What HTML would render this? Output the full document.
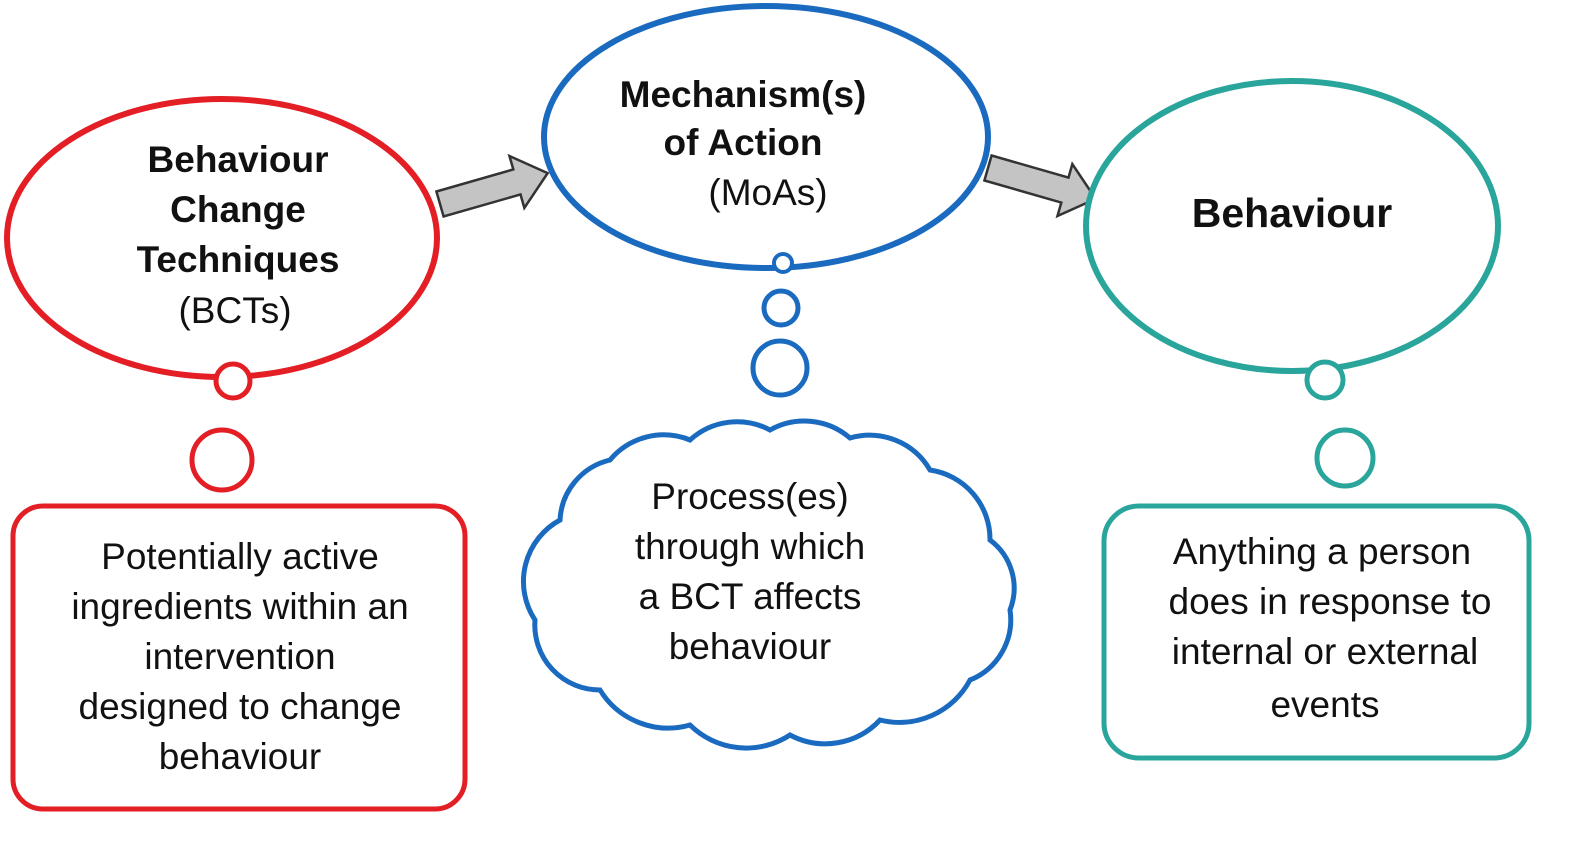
<!DOCTYPE html>
<html><head><meta charset="utf-8"><style>
html,body{margin:0;padding:0;background:#fff}
svg text{font-family:"Liberation Sans",sans-serif;fill:#111;text-anchor:middle}
.b{font-weight:bold}
</style></head><body>
<svg width="1595" height="838" viewBox="0 0 1595 838" xmlns="http://www.w3.org/2000/svg">
<polygon points="0,-13 80,-13 80,-27 112,0 80,27 80,13 0,13" fill="#c4c4c4" stroke="#333" stroke-width="2.5" transform="translate(440,204) rotate(-16)"/>
<polygon points="0,-13 80,-13 80,-27 112,0 80,27 80,13 0,13" fill="#c4c4c4" stroke="#333" stroke-width="2.5" transform="translate(988,168) rotate(16)"/>
<ellipse cx="222" cy="238" rx="215" ry="139" fill="#fff" stroke="#e31e24" stroke-width="6"/>
<circle cx="233" cy="381" r="17" fill="#fff" stroke="#e31e24" stroke-width="5"/>
<circle cx="222" cy="460" r="30" fill="#fff" stroke="#e31e24" stroke-width="5"/>
<rect x="13" y="506" width="452" height="303" rx="30" fill="#fff" stroke="#e31e24" stroke-width="5"/>
<ellipse cx="766" cy="137" rx="222" ry="131" fill="#fff" stroke="#1a6bbf" stroke-width="6"/>
<circle cx="783" cy="263" r="9" fill="#fff" stroke="#1a6bbf" stroke-width="4"/>
<circle cx="781" cy="308" r="17" fill="#fff" stroke="#1a6bbf" stroke-width="5"/>
<circle cx="780" cy="368" r="27" fill="#fff" stroke="#1a6bbf" stroke-width="5"/>
<path d="M560,520 A65,65 0 0 1 610,460 A70,70 0 0 1 690,440 A70,70 0 0 1 770,430 A70,70 0 0 1 850,438 A70,70 0 0 1 930,470 A70,70 0 0 1 990,540 A60,60 0 0 1 1010,610 A65,65 0 0 1 970,680 A80,80 0 0 1 880,720 A75,75 0 0 1 790,735 A80,80 0 0 1 690,725 A80,80 0 0 1 600,690 A65,65 0 0 1 535,620 A70,70 0 0 1 560,520 Z" fill="#fff" stroke="#1a6bbf" stroke-width="5"/>
<ellipse cx="1292" cy="226" rx="206" ry="145" fill="#fff" stroke="#2aa59b" stroke-width="6"/>
<circle cx="1325" cy="380" r="18" fill="#fff" stroke="#2aa59b" stroke-width="5"/>
<circle cx="1345" cy="458" r="28" fill="#fff" stroke="#2aa59b" stroke-width="5"/>
<rect x="1104" y="506" width="425" height="252" rx="35" fill="#fff" stroke="#2aa59b" stroke-width="5"/>
<g font-size="37">
<text class="b" x="238" y="172">Behaviour</text>
<text class="b" x="238" y="222">Change</text>
<text class="b" x="238" y="272">Techniques</text>
<text x="235" y="323">(BCTs)</text>
<text class="b" x="743" y="107">Mechanism(s)</text>
<text class="b" x="743" y="155">of Action</text>
<text x="768" y="205">(MoAs)</text>
<text class="b" x="1292" y="227" font-size="41">Behaviour</text>
<text x="240" y="569">Potentially active</text>
<text x="240" y="619">ingredients within an</text>
<text x="240" y="669">intervention</text>
<text x="240" y="719">designed to change</text>
<text x="240" y="769">behaviour</text>
<text x="750" y="509">Process(es)</text>
<text x="750" y="559">through which</text>
<text x="750" y="609">a BCT affects</text>
<text x="750" y="659">behaviour</text>
<text x="1322" y="564">Anything a person</text>
<text x="1330" y="614">does in response to</text>
<text x="1325" y="664">internal or external</text>
<text x="1325" y="717">events</text>
</g>
</svg>
</body></html>
